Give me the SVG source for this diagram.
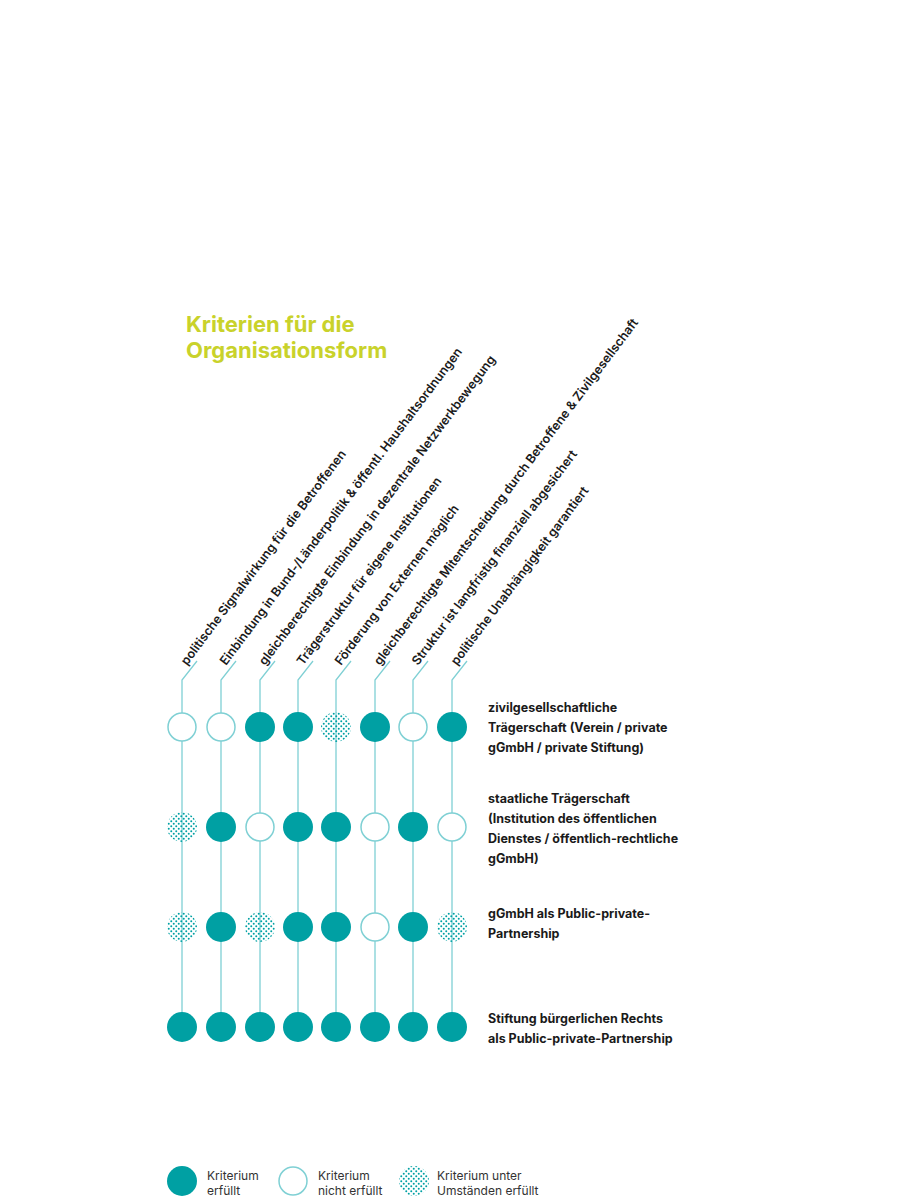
<svg xmlns="http://www.w3.org/2000/svg" width="921" height="1200" viewBox="0 0 921 1200">
<style>
.t{font-family:"Inter","Liberation Sans",sans-serif;fill:#1a1a1a}
.col{font-size:12.5px;font-weight:600}
.row{font-size:12.5px;font-weight:700}
.leg{font-size:12px;fill:#333}
.ttl{font-family:"Inter","Liberation Sans",sans-serif;font-size:22px;font-weight:700;fill:#c9d22b}
.ln{stroke:#7fd0d4;stroke-width:1.3;fill:none}
.f{fill:#00a0a3}
.o{fill:#fff;stroke:#7fd0d4;stroke-width:1.5}
.d{fill:url(#dots)}
</style>
<defs>
<pattern id="dots" width="5" height="5" patternUnits="userSpaceOnUse">
<circle cx="1.25" cy="1.25" r="1" fill="#00a0a3"/>
<circle cx="3.75" cy="3.75" r="1" fill="#00a0a3"/>
</pattern>
</defs>
<rect width="921" height="1200" fill="#fff"/>
<text class="ttl" x="186" y="332">Kriterien für die</text>
<text class="ttl" x="186" y="358">Organisationsform</text>
<g id="connectors">
<path class="ln" d="M182 1027V680l15-19"/>
<path class="ln" d="M221 1027V680l15-19"/>
<path class="ln" d="M260 1027V680l15-19"/>
<path class="ln" d="M298 1027V680l15-19"/>
<path class="ln" d="M336 1027V680l15-19"/>
<path class="ln" d="M375 1027V680l15-19"/>
<path class="ln" d="M413 1027V680l15-19"/>
<path class="ln" d="M452 1027V680l15-19"/>
</g>
<g id="column-labels" class="t col">
<text transform="translate(187,666) rotate(-53)">politische Signalwirkung für die Betroffenen</text>
<text transform="translate(226,666) rotate(-53)">Einbindung in Bund-/Länderpolitik &amp; öffentl. Haushaltsordnungen</text>
<text transform="translate(265,666) rotate(-53)">gleichberechtigte Einbindung in dezentrale Netzwerkbewegung</text>
<text transform="translate(303,666) rotate(-53)">Trägerstruktur für eigene Institutionen</text>
<text transform="translate(341,666) rotate(-53)">Förderung von Externen möglich</text>
<text transform="translate(380,666) rotate(-53)">gleichberechtigte Mitentscheidung durch Betroffene &amp; Zivilgesellschaft</text>
<text transform="translate(418,666) rotate(-53)">Struktur ist langfristig finanziell abgesichert</text>
<text transform="translate(457,666) rotate(-53)">politische Unabhängigkeit garantiert</text>
</g>
<g id="row1">
<circle class="o" cx="182" cy="727" r="14"/><circle class="o" cx="221" cy="727" r="14"/><circle class="f" cx="260" cy="727" r="15"/><circle class="f" cx="298" cy="727" r="15"/><circle class="d" cx="336" cy="727" r="15"/><circle class="f" cx="375" cy="727" r="15"/><circle class="o" cx="413" cy="727" r="14"/><circle class="f" cx="452" cy="727" r="15"/>
<text class="t row" x="488" y="712">zivilgesellschaftliche</text>
<text class="t row" x="488" y="732">Trägerschaft (Verein / private</text>
<text class="t row" x="488" y="752">gGmbH / private Stiftung)</text>
</g>
<g id="row2">
<circle class="d" cx="182" cy="827" r="15"/><circle class="f" cx="221" cy="827" r="15"/><circle class="o" cx="260" cy="827" r="14"/><circle class="f" cx="298" cy="827" r="15"/><circle class="f" cx="336" cy="827" r="15"/><circle class="o" cx="375" cy="827" r="14"/><circle class="f" cx="413" cy="827" r="15"/><circle class="o" cx="452" cy="827" r="14"/>
<text class="t row" x="488" y="803">staatliche Trägerschaft</text>
<text class="t row" x="488" y="823">(Institution des öffentlichen</text>
<text class="t row" x="488" y="843">Dienstes / öffentlich-rechtliche</text>
<text class="t row" x="488" y="863">gGmbH)</text>
</g>
<g id="row3">
<circle class="d" cx="182" cy="927" r="15"/><circle class="f" cx="221" cy="927" r="15"/><circle class="d" cx="260" cy="927" r="15"/><circle class="f" cx="298" cy="927" r="15"/><circle class="f" cx="336" cy="927" r="15"/><circle class="o" cx="375" cy="927" r="14"/><circle class="f" cx="413" cy="927" r="15"/><circle class="d" cx="452" cy="927" r="15"/>
<text class="t row" x="488" y="918">gGmbH als Public-private-</text>
<text class="t row" x="488" y="938">Partnership</text>
</g>
<g id="row4">
<circle class="f" cx="182" cy="1027" r="15"/><circle class="f" cx="221" cy="1027" r="15"/><circle class="f" cx="260" cy="1027" r="15"/><circle class="f" cx="298" cy="1027" r="15"/><circle class="f" cx="336" cy="1027" r="15"/><circle class="f" cx="375" cy="1027" r="15"/><circle class="f" cx="413" cy="1027" r="15"/><circle class="f" cx="452" cy="1027" r="15"/>
<text class="t row" x="488" y="1023">Stiftung bürgerlichen Rechts</text>
<text class="t row" x="488" y="1043">als Public-private-Partnership</text>
</g>
<g id="legend">
<circle class="f" cx="182" cy="1181" r="15"/>
<text class="t leg" x="207" y="1180">Kriterium</text><text class="t leg" x="207" y="1195">erfüllt</text>
<circle class="o" cx="293" cy="1181" r="14"/>
<text class="t leg" x="318" y="1180">Kriterium</text><text class="t leg" x="318" y="1195">nicht erfüllt</text>
<circle class="d" cx="414" cy="1181" r="15"/>
<text class="t leg" x="437" y="1180">Kriterium unter</text><text class="t leg" x="437" y="1195">Umständen erfüllt</text>
</g>
</svg>
